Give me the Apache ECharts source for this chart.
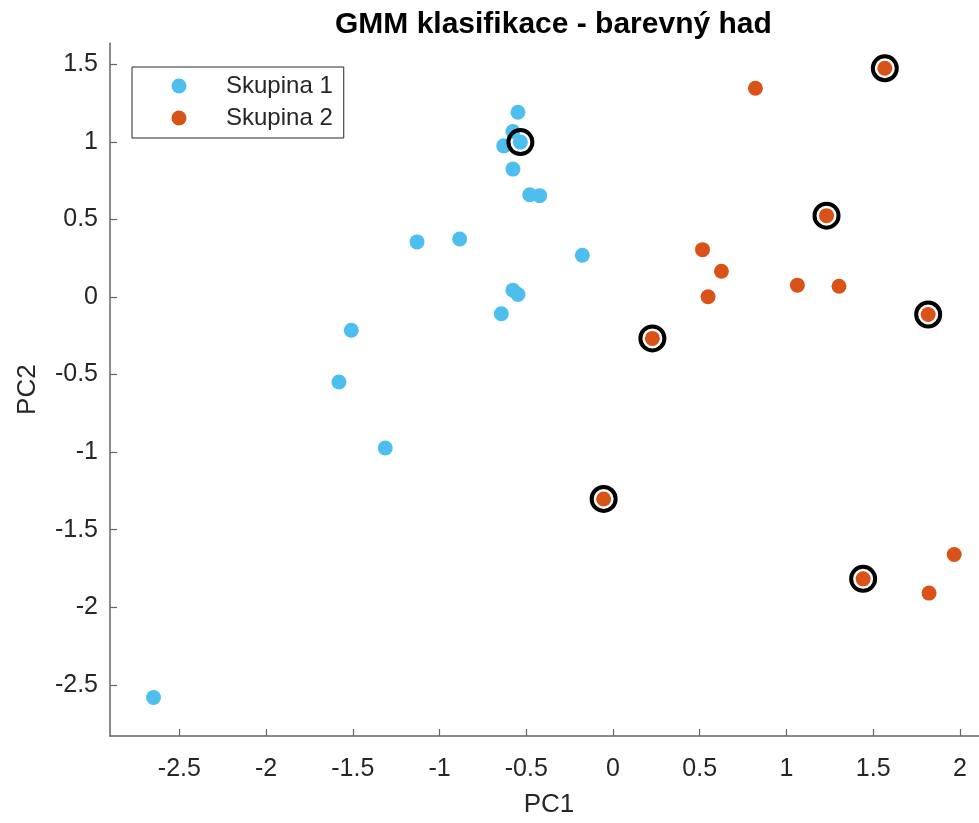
<!DOCTYPE html>
<html>
<head>
<meta charset="utf-8">
<title>GMM klasifikace - barevný had</title>
<script src="https://cdn.jsdelivr.net/npm/echarts@6/dist/echarts.min.js"></script>
<style>
  html, body { margin: 0; padding: 0; background: #ffffff; }
  #chart { width: 979px; height: 823px; }
</style>
</head>
<body>
<div id="chart"></div>
<script>
// Principal component scores, group 1 (Skupina 1)
const group1PC1 = [-0.548, -0.577, -0.630, -0.534, -0.577, -0.480, -0.423, -1.130, -0.884,
                   -0.177, -0.577, -0.548, -0.644, -1.509, -1.580, -1.313, -2.649];
const group1PC2 = [1.191, 1.066, 0.974, 0.998, 0.824, 0.659, 0.653, 0.355, 0.374,
                   0.269, 0.044, 0.016, -0.108, -0.215, -0.548, -0.974, -2.582];

// Principal component scores, group 2 (Skupina 2)
const group2PC1 = [0.821, 1.567, 1.231, 0.516, 0.625, 0.548, 1.063, 1.303, 1.817, 0.227,
                   -0.054, 1.442, 1.967, 1.822];
const group2PC2 = [1.345, 1.474, 0.524, 0.305, 0.166, 0.001, 0.076, 0.069, -0.113, -0.267,
                   -1.302, -1.817, -1.660, -1.909];

// Highlighted points (drawn as black rings)
const markedPC1 = [-0.534, 1.567, 1.231, 1.817, 0.227, -0.054, 1.442];
const markedPC2 = [0.998, 1.474, 0.524, -0.113, -0.267, -1.302, -1.817];

// Tick positions
const xTicks = [-2.5, -2, -1.5, -1, -0.5, 0, 0.5, 1, 1.5, 2];
const yTicks = [-2.5, -2, -1.5, -1, -0.5, 0, 0.5, 1, 1.5];

const seriesNames = ['Skupina 1', 'Skupina 2'];
const titleText = 'GMM klasifikace - barevný had';

const zipPoints = (xs, ys) => xs.map((x, i) => [x, ys[i]]);

const FONT = '"Liberation Sans", Arial, Helvetica, sans-serif';
const AXIS_COLOR = '#666666';
const TEXT_COLOR = '#262626';

const chart = echarts.init(document.getElementById('chart'), null, { renderer: 'canvas' });

const axisCommon = {
  type: 'value',
  splitLine: { show: false },
  axisLine: { show: true, onZero: false, lineStyle: { color: AXIS_COLOR, width: 1.5 } },
  axisTick: { show: true, inside: true, length: 7, lineStyle: { color: AXIS_COLOR, width: 1.2 } },
  nameLocation: 'middle',
  nameTextStyle: { fontFamily: FONT, fontSize: 26, color: TEXT_COLOR }
};

chart.setOption({
  backgroundColor: '#ffffff',
  animation: false,
  title: {
    text: titleText,
    left: 330,
    top: 5,
    textStyle: { fontFamily: FONT, fontSize: 30, fontWeight: 'bold', color: '#000000' }
  },
  legend: {
    data: seriesNames,
    orient: 'vertical',
    left: 132,
    top: 67,
    padding: [7, 11, 8, 39.5],
    itemGap: 8,
    itemWidth: 84,
    itemHeight: 15,
    icon: 'circle',
    borderColor: '#262626',
    borderWidth: 1,
    backgroundColor: '#ffffff',
    textStyle: { fontFamily: FONT, fontSize: 24, color: TEXT_COLOR, lineHeight: 24 }
  },
  grid: { left: 110, right: 0, top: 43.3, bottom: 85.3, containLabel: false },
  xAxis: Object.assign({}, axisCommon, {
    min: -2.9,
    max: 2.11,
    name: 'PC1',
    nameGap: 56,
    nameTextStyle: Object.assign({}, axisCommon.nameTextStyle, { padding: [0, 0, 0, 9] }),
    axisTick: Object.assign({}, axisCommon.axisTick, { customValues: xTicks }),
    axisLabel: {
      customValues: xTicks,
      margin: 21,
      fontFamily: FONT,
      fontSize: 25,
      color: TEXT_COLOR
    }
  }),
  yAxis: Object.assign({}, axisCommon, {
    min: -2.83,
    max: 1.635,
    name: 'PC2',
    nameGap: 69,
    axisTick: Object.assign({}, axisCommon.axisTick, { customValues: yTicks }),
    axisLabel: {
      customValues: yTicks,
      margin: 12,
      fontFamily: FONT,
      fontSize: 25,
      color: TEXT_COLOR
    }
  }),
  series: [
    {
      name: seriesNames[0],
      type: 'scatter',
      symbol: 'circle',
      symbolSize: 15,
      itemStyle: { color: '#4DBEEE', opacity: 1 },
      data: zipPoints(group1PC1, group1PC2),
      z: 2
    },
    {
      name: seriesNames[1],
      type: 'scatter',
      symbol: 'circle',
      symbolSize: 15,
      itemStyle: { color: '#D95319', opacity: 1 },
      data: zipPoints(group2PC1, group2PC2),
      z: 2
    },
    {
      name: 'rings',
      type: 'scatter',
      symbol: 'circle',
      symbolSize: 24,
      itemStyle: { color: 'rgba(0,0,0,0)', borderColor: '#000000', borderWidth: 4, opacity: 1 },
      data: zipPoints(markedPC1, markedPC2),
      z: 3,
      silent: true
    }
  ]
});
</script>
</body>
</html>
